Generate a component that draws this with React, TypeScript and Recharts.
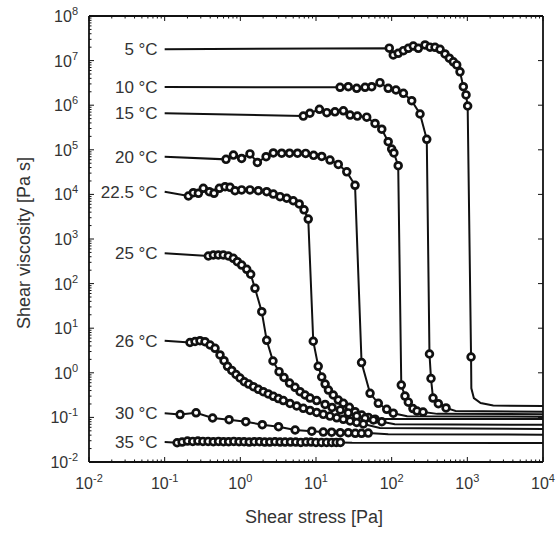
import React from 'react';
import { ComposedChart, Line, XAxis, YAxis, ReferenceLine, Label } from 'recharts';

type Pt = [number, number];

// curve labels and the zero-shear plateau each fit line starts from (at 0.1 Pa)
const TEMPS = ['5 °C', '10 °C', '15 °C', '20 °C', '22.5 °C', '25 °C', '26 °C', '30 °C', '35 °C'];
const PLATEAU = [1.8e7, 2.56e6, 6.6e5, 7.0e4, 1.15e4, 478, 5.25, 0.124, 0.028];
const START_STRESS = 0.1;

// measured points (shear stress [Pa], viscosity [Pa s])
const m5: Pt[] = [
  [93, 1.9e7], [105, 1.34e7], [122, 1.46e7], [143, 1.67e7], [166, 1.89e7], [193, 2.12e7],
  [225, 1.89e7], [276, 2.24e7], [321, 2.0e7], [374, 1.99e7], [436, 1.79e7], [507, 1.41e7],
  [578, 1.13e7], [653, 9.4e6], [724, 8.0e6], [800, 5.6e6], [885, 2.6e6], [961, 1.7e6],
  [1010, 9.6e5], [1120, 2.26],
];
const m10: Pt[] = [
  [20.8, 2.52e6], [26.7, 2.6e6], [34.5, 2.39e6], [44.5, 2.52e6], [54.5, 2.6e6], [70, 3.2e6],
  [90, 2.39e6], [114, 2.19e6], [143, 1.85e6], [184, 1.26e6], [237, 6.35e5], [291, 1.72e5],
  [316, 2.64], [331, 0.745], [352, 0.272], [414, 0.203], [523, 0.163],
];
const m15: Pt[] = [
  [6.8, 5.7e5], [8.3, 6.6e5], [11.1, 8.1e5], [13.9, 6.8e5], [17.8, 7.1e5], [23, 7.5e5],
  [28.2, 6.0e5], [35.2, 5.7e5], [46.8, 5.4e5], [60.3, 3.9e5], [74, 2.9e5], [90, 1.52e5],
  [100, 1.04e5], [107, 8.5e4], [122, 4.4e4], [134, 0.53], [150, 0.3], [166, 0.22],
  [191, 0.158], [216, 0.139], [260, 0.132],
];
const m20: Pt[] = [
  [0.647, 6.1e4], [0.81, 7.6e4], [1.04, 6.4e4], [1.34, 8.1e4], [1.68, 5.2e4], [2.19, 7.0e4],
  [2.73, 8.5e4], [3.52, 8.4e4], [4.47, 8.4e4], [5.7, 8.4e4], [7.3, 8.3e4], [9.3, 7.5e4],
  [11.9, 7.1e4], [15.3, 5.9e4], [19.7, 4.7e4], [25.5, 3.2e4], [32.8, 1.6e4], [40, 1.7],
  [51.8, 0.347], [66.6, 0.207], [86, 0.152], [105, 0.124],
];
const m22: Pt[] = [
  [0.206, 9.2e3], [0.239, 1.09e4], [0.279, 1.06e4], [0.324, 1.37e4], [0.389, 1.15e4],
  [0.449, 1.06e4], [0.528, 1.37e4], [0.628, 1.49e4], [0.731, 1.44e4], [0.851, 1.21e4],
  [1.04, 1.26e4], [1.34, 1.26e4], [1.73, 1.21e4], [2.23, 1.15e4], [2.73, 1.02e4],
  [3.35, 8.9e3], [4.1, 8.2e3], [5.0, 7.2e3], [6.0, 6.1e3], [6.95, 4.5e3], [7.9, 2.8e3],
  [9.2, 5.1], [10.7, 1.4], [11.9, 0.805], [13.2, 0.56], [14.6, 0.41], [16.9, 0.318],
  [19.7, 0.245], [23, 0.207], [27.6, 0.168], [32.8, 0.134], [40.2, 0.113], [49.2, 0.1],
  [60.3, 0.091],
];
const m25: Pt[] = [
  [0.378, 416], [0.44, 438], [0.512, 438], [0.596, 438], [0.694, 416], [0.808, 369],
  [0.913, 310], [1.04, 261], [1.215, 209], [1.37, 162], [1.56, 78.5], [1.92, 23.4],
  [2.23, 5.35], [2.7, 1.84], [3.25, 1.06], [3.78, 0.785], [4.47, 0.59], [5.28, 0.473],
  [6.15, 0.377], [7.16, 0.318], [8.34, 0.272], [10.2, 0.239], [13.2, 0.195], [16.3, 0.167],
  [20.9, 0.147], [26.7, 0.126], [34.5, 0.107], [44.5, 0.0955], [57.3, 0.0875], [74, 0.08],
];
const m26: Pt[] = [
  [0.216, 4.78], [0.252, 5.03], [0.293, 5.25], [0.341, 4.98], [0.398, 4.2], [0.463, 3.54],
  [0.539, 2.51], [0.609, 1.87], [0.677, 1.4], [0.77, 1.13], [0.877, 0.916], [0.99, 0.764],
  [1.13, 0.63], [1.29, 0.56], [1.49, 0.488], [1.73, 0.427], [2.01, 0.377], [2.34, 0.335],
  [2.73, 0.297], [3.18, 0.265], [3.7, 0.239], [4.54, 0.205], [5.56, 0.18], [6.8, 0.16],
  [8.34, 0.143], [10.2, 0.129], [12.5, 0.117], [15.3, 0.107], [18.8, 0.098], [23, 0.0906],
  [28.2, 0.083], [34.5, 0.0768], [42.2, 0.0711],
];
const m30: Pt[] = [
  [0.16, 0.116], [0.26, 0.127], [0.43, 0.097], [0.71, 0.0888], [1.18, 0.08], [1.95, 0.0686],
  [3.2, 0.0619], [5.3, 0.0522], [8.8, 0.049], [12.5, 0.047], [16.1, 0.0465], [20.9, 0.0454],
  [26.7, 0.0454], [33, 0.044], [40, 0.044], [49, 0.0445],
];
const m35: Pt[] = [
  [0.146, 0.027], [0.17, 0.028], [0.2, 0.0295], [0.235, 0.029], [0.275, 0.0295], [0.32, 0.029],
  [0.375, 0.029], [0.44, 0.0285], [0.515, 0.029], [0.6, 0.0285], [0.7, 0.0285], [0.82, 0.029],
  [0.96, 0.0285], [1.12, 0.0285], [1.31, 0.028], [1.53, 0.0285], [1.79, 0.0285], [2.1, 0.028],
  [2.45, 0.028], [2.87, 0.0285], [3.35, 0.028], [3.9, 0.028], [4.6, 0.028], [5.4, 0.028],
  [6.3, 0.0275], [7.4, 0.028], [8.6, 0.028], [10, 0.0275], [11.8, 0.0275], [13.8, 0.0275],
  [16.1, 0.0275], [18.5, 0.0275], [21, 0.0275],
];

// fit line beyond the last measured point (high-shear plateau)
const t5: Pt[] = [[1130, 0.45], [1220, 0.27], [1500, 0.21], [2200, 0.185], [10000, 0.18]];
const t10: Pt[] = [[700, 0.14], [10000, 0.134]];
const t15: Pt[] = [[400, 0.12], [10000, 0.118]];
const t20: Pt[] = [[160, 0.106], [10000, 0.104]];
const t22: Pt[] = [[90, 0.092], [10000, 0.092]];
const t25: Pt[] = [[110, 0.07], [10000, 0.068]];
const t26: Pt[] = [[70, 0.058], [10000, 0.055]];
const t30: Pt[] = [[90, 0.042], [10000, 0.041]];
const t35: Pt[] = [[30, 0.027], [10000, 0.0265]];

const MEASURED = [m5, m10, m15, m20, m22, m25, m26, m30, m35];
const TAILS = [t5, t10, t15, t20, t22, t25, t26, t30, t35];

// axis decades
const X_MAJOR = [0.01, 0.1, 1, 10, 100, 1000, 10000];
const Y_MAJOR = [0.01, 0.1, 1, 10, 100, 1e3, 1e4, 1e5, 1e6, 1e7, 1e8];

const withMinors = (majors: number[]) => {
  const out: number[] = [];
  majors.forEach((m, i) => {
    out.push(m);
    if (i < majors.length - 1) for (let k = 2; k <= 9; k++) out.push(m * k);
  });
  return out;
};
const X_TICKS = withMinors(X_MAJOR);
const Y_TICKS = withMinors(Y_MAJOR);

const W = 556;
const H = 533;
const LEFT = 89;
const RIGHT = 543;
const TOP = 16;
const BOTTOM = 462;
const INK = '#111';
const TXT = '#333';
const FONT = '"Liberation Sans", Arial, sans-serif';

const isMajor = (v: number) => Math.abs(Math.log10(v) - Math.round(Math.log10(v))) < 1e-6;
const expOf = (v: number) => String(Math.round(Math.log10(v)));

const XTick = (props: any) => {
  const { x, payload } = props;
  const v = payload.value;
  const major = isMajor(v);
  const len = major ? 5 : 2.5;
  return (
    <g>
      <line x1={x} x2={x} y1={BOTTOM} y2={BOTTOM - len} stroke={INK} strokeWidth={1} />
      <line x1={x} x2={x} y1={TOP} y2={TOP + len} stroke={INK} strokeWidth={1} />
      {major && (
        <text x={x} y={BOTTOM + 27} textAnchor="middle" fontSize={16} fill={TXT} fontFamily={FONT}>
          10<tspan dy={-7} fontSize={11}>{expOf(v)}</tspan>
        </text>
      )}
    </g>
  );
};

const YTick = (props: any) => {
  const { y, payload } = props;
  const v = payload.value;
  const major = isMajor(v);
  const len = major ? 5 : 2.5;
  return (
    <g>
      <line x1={LEFT} x2={LEFT + len} y1={y} y2={y} stroke={INK} strokeWidth={1} />
      {major && <line x1={RIGHT} x2={RIGHT - len} y1={y} y2={y} stroke={INK} strokeWidth={1} />}
      {major && (
        <text x={LEFT - 11} y={y + 6} textAnchor="end" fontSize={16} fill={TXT} fontFamily={FONT}>
          10<tspan dy={-7} fontSize={11}>{expOf(v)}</tspan>
        </text>
      )}
    </g>
  );
};

const makeDot = (label: string) => (props: any) => {
  const { cx, cy, payload, index } = props;
  if (payload.first) {
    return (
      <text key={`l${index}`} x={cx - 7} y={cy + 6} textAnchor="end" fontSize={17} fill={TXT} fontFamily={FONT}>
        {label}
      </text>
    );
  }
  if (payload.m) {
    return <circle key={`c${index}`} cx={cx} cy={cy} r={3.4} fill="#fff" stroke={INK} strokeWidth={2.7} />;
  }
  return <g key={`n${index}`} />;
};

const series = TEMPS.map((label, i) => ({
  label,
  data: [
    { x: START_STRESS, y: PLATEAU[i], first: true },
    ...MEASURED[i].map(([x, y]) => ({ x, y, m: true })),
    ...TAILS[i].map(([x, y]) => ({ x, y })),
  ],
}));

export default function App() {
  return (
    <div style={{ position: 'absolute', left: 0, top: 0, width: W, height: H, background: '#fff' }}>
      <ComposedChart width={W} height={H} margin={{ top: TOP, right: W - RIGHT, bottom: 0, left: 0 }}>
        <XAxis
          dataKey="x"
          type="number"
          scale="log"
          domain={[0.01, 10000]}
          allowDataOverflow
          ticks={X_TICKS}
          interval={0}
          tick={<XTick />}
          tickLine={false}
          axisLine={{ stroke: INK, strokeWidth: 1.8 }}
          height={H - BOTTOM}
        >
          <Label
            content={(p: any) => (
              <text
                x={p.viewBox.x + p.viewBox.width / 2 - 2}
                y={p.viewBox.y + 61}
                textAnchor="middle"
                fontSize={18}
                fill={TXT}
                fontFamily={FONT}
              >
                Shear stress [Pa]
              </text>
            )}
          />
        </XAxis>
        <YAxis
          type="number"
          scale="log"
          domain={[0.01, 1e8]}
          allowDataOverflow
          ticks={Y_TICKS}
          interval={0}
          tick={<YTick />}
          tickLine={false}
          axisLine={{ stroke: INK, strokeWidth: 1.8 }}
          width={LEFT}
        >
          <Label
            content={(p: any) => {
              const cx = p.viewBox.x + 30;
              const cy = p.viewBox.y + p.viewBox.height / 2 + 4;
              return (
                <text
                  x={cx}
                  y={cy}
                  transform={`rotate(-90 ${cx} ${cy})`}
                  textAnchor="middle"
                  fontSize={18}
                  fill={TXT}
                  fontFamily={FONT}
                >
                  Shear viscosity [Pa s]
                </text>
              );
            }}
          />
        </YAxis>
        <ReferenceLine y={1e8} stroke={INK} strokeWidth={1.8} />
        <ReferenceLine x={10000} stroke={INK} strokeWidth={1.8} />
        {series.map((s) => (
          <Line
            key={s.label}
            data={s.data}
            dataKey="y"
            type="linear"
            stroke={INK}
            strokeWidth={2}
            dot={makeDot(s.label)}
            activeDot={false}
            isAnimationActive={false}
          />
        ))}
      </ComposedChart>
    </div>
  );
}
